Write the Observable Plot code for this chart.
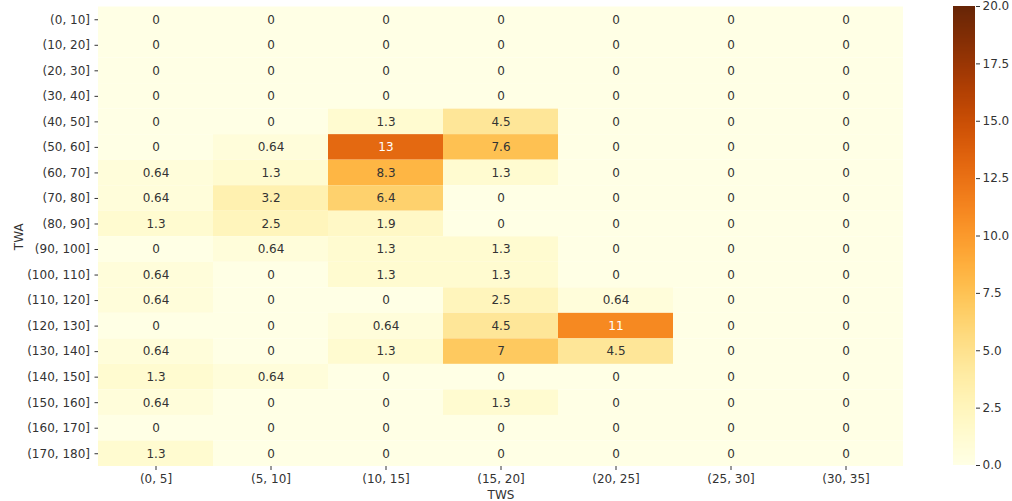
<!DOCTYPE html>
<html>
<head>
<meta charset="utf-8">
<script src="https://cdn.jsdelivr.net/npm/d3@7"></script>
<script src="https://cdn.jsdelivr.net/npm/@observablehq/plot@0.6"></script>
<style>
  html, body { margin: 0; padding: 0; background: #fff; }
  #wrap { position: relative; width: 1012px; height: 501px; overflow: hidden; font-family: "DejaVu Sans", sans-serif; }
  #wrap > svg { position: absolute; top: 0; }
</style>
</head>
<body>
<div id="wrap"></div>
<script>
const twaLabels = ["(0, 10]","(10, 20]","(20, 30]","(30, 40]","(40, 50]","(50, 60]","(60, 70]","(70, 80]","(80, 90]","(90, 100]","(100, 110]","(110, 120]","(120, 130]","(130, 140]","(140, 150]","(150, 160]","(160, 170]","(170, 180]"];
const twsLabels = ["(0, 5]","(5, 10]","(10, 15]","(15, 20]","(20, 25]","(25, 30]","(30, 35]"];
// values[rowIndex (TWA)][colIndex (TWS)] in %
const values = [
  [0, 0, 0, 0, 0, 0, 0],
  [0, 0, 0, 0, 0, 0, 0],
  [0, 0, 0, 0, 0, 0, 0],
  [0, 0, 0, 0, 0, 0, 0],
  [0, 0, 1.3, 4.5, 0, 0, 0],
  [0, 0.64, 13, 7.6, 0, 0, 0],
  [0.64, 1.3, 8.3, 1.3, 0, 0, 0],
  [0.64, 3.2, 6.4, 0, 0, 0, 0],
  [1.3, 2.5, 1.9, 0, 0, 0, 0],
  [0, 0.64, 1.3, 1.3, 0, 0, 0],
  [0.64, 0, 1.3, 1.3, 0, 0, 0],
  [0.64, 0, 0, 2.5, 0.64, 0, 0],
  [0, 0, 0.64, 4.5, 11, 0, 0],
  [0.64, 0, 1.3, 7, 4.5, 0, 0],
  [1.3, 0.64, 0, 0, 0, 0, 0],
  [0.64, 0, 0, 1.3, 0, 0, 0],
  [0, 0, 0, 0, 0, 0, 0],
  [1.3, 0, 0, 0, 0, 0, 0]
];
const colorTicks = [0, 2.5, 5, 7.5, 10, 12.5, 15, 17.5, 20];

const table = [];
twaLabels.forEach((twa, i) => twsLabels.forEach((tws, j) => table.push({twa, tws, v: values[i][j]})));

const colorOpts = {type: "linear", scheme: "YlOrBr", domain: [0, 20]};
const textColor = "#333333";

const main = Plot.plot({
  width: 930, height: 501,
  marginLeft: 98, marginRight: 27, marginTop: 6.5, marginBottom: 35,
  style: {fontFamily: "DejaVu Sans, sans-serif", fontSize: "12px", color: textColor, background: "transparent"},
  x: {domain: twsLabels, padding: 0, round: false, label: "TWS", labelAnchor: "center", labelArrow: "none", labelOffset: 32, tickSize: 4, tickPadding: 4},
  y: {domain: twaLabels, padding: 0, round: false, label: "TWA", labelAnchor: "center", labelArrow: "none", labelOffset: 84, tickSize: 3.5, tickPadding: 5},
  color: colorOpts,
  marks: [
    Plot.cell(table, {x: "tws", y: "twa", fill: "v", inset: 0}),
    Plot.text(table, {x: "tws", y: "twa", text: d => String(d.v), fill: d => d.v > 10 ? "#ffffff" : textColor, fontSize: 12})
  ]
});
main.style.left = "0px";
document.getElementById("wrap").appendChild(main);

const steps = d3.range(0, 20, 0.05).map(s => ({a: s, b: s + 0.05, c: s + 0.025}));
const bar = Plot.plot({
  width: 82, height: 501,
  marginLeft: 23, marginRight: 37, marginTop: 6, marginBottom: 36,
  style: {fontFamily: "DejaVu Sans, sans-serif", fontSize: "12px", color: textColor, background: "transparent"},
  x: {domain: [0, 1], axis: null},
  y: {domain: [0, 20], axis: "right", ticks: colorTicks, tickFormat: d3.format(".1f"), label: null, tickSize: 4, tickPadding: 3},
  color: colorOpts,
  marks: [
    Plot.rect(steps, {x1: 0, x2: 1, y1: "a", y2: "b", fill: "c", inset: 0, shapeRendering: "crispEdges"})
  ]
});
bar.style.left = "930px";
document.getElementById("wrap").appendChild(bar);
</script>
</body>
</html>
